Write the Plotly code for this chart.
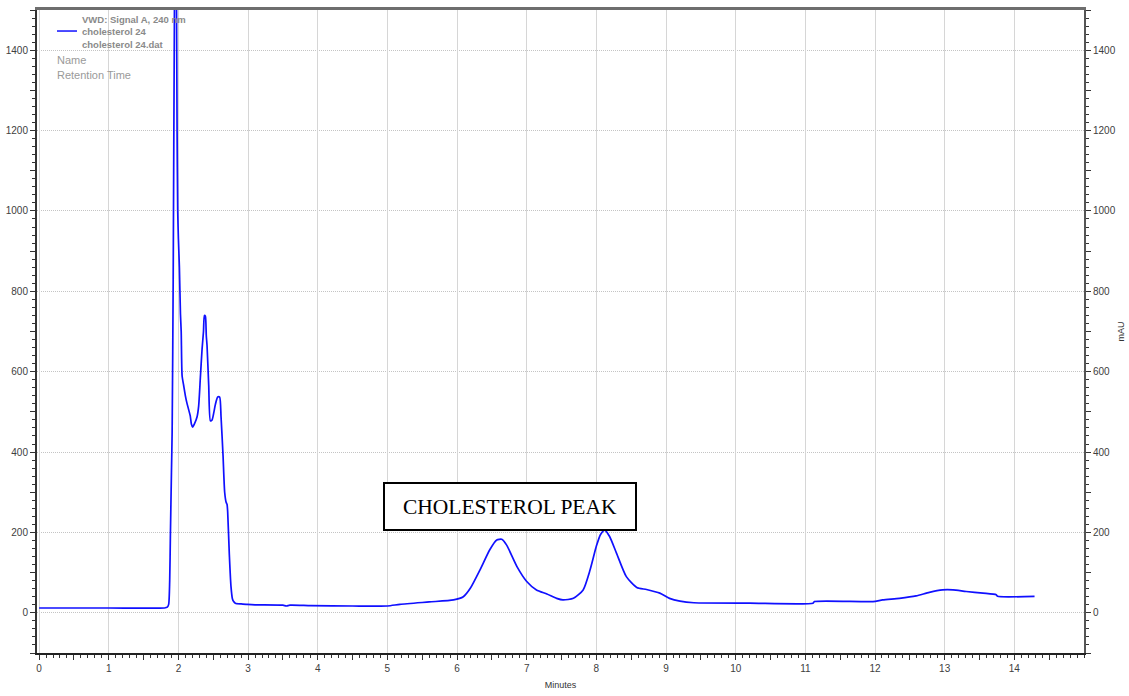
import plotly.graph_objects as go

# Chromatogram: VWD signal A, 240 nm (cholesterol 24)
time_min = [
    0.0, 1.0, 1.80, 1.84, 1.86, 1.875, 1.885, 1.90, 1.91, 1.925, 1.943, 1.962,
    1.981, 1.99, 2.0, 2.014, 2.029, 2.04, 2.053, 2.076, 2.10, 2.125, 2.148, 2.17,
    2.186, 2.205, 2.23, 2.268, 2.291, 2.315, 2.339, 2.36, 2.373, 2.387, 2.40,
    2.411, 2.435, 2.459, 2.483, 2.51, 2.53, 2.564, 2.592, 2.612, 2.641, 2.664,
    2.685, 2.698, 2.707, 2.731, 2.755, 2.775, 2.793, 2.817, 2.9, 2.985, 3.1,
    3.5, 3.55, 3.6, 3.9, 4.5, 5.0, 5.18, 5.6, 5.95, 6.09, 6.19, 6.33, 6.47,
    6.57, 6.64, 6.71, 6.86, 7.0, 7.14, 7.29, 7.43, 7.52, 7.67, 7.81, 7.91,
    8.0, 8.06, 8.12, 8.19, 8.29, 8.43, 8.58, 8.72, 8.91, 9.05, 9.2, 9.4,
    10.2, 11.11, 11.13, 11.97, 12.11, 12.35, 12.59, 12.78, 12.97, 13.12,
    13.31, 13.55, 13.74, 13.76, 14.29,
]
signal_mau = [
    12, 12, 12, 14, 21, 80, 193, 350, 450, 830, 1500, 1850,
    1200, 1000, 930, 860, 745, 700, 590, 565, 540, 520, 505, 490,
    470, 462, 470, 488, 515, 585, 655, 700, 740, 738, 690,
    665, 566, 478, 480, 500, 518, 537, 537, 488, 390, 300,
    275, 270, 252, 145, 65, 35, 28, 24, 22, 21, 20,
    19, 17, 19, 18, 17, 17, 21, 27, 32, 40, 61, 107, 157,
    181, 183, 169, 115, 78, 57, 47, 36, 32, 36, 57, 107,
    166, 195, 206, 190, 148, 90, 63, 58, 49, 36, 29, 25,
    24, 24, 28, 28, 32, 36, 42, 51, 57, 57,
    53, 49, 45, 41, 41,
]

x_range = [-0.03, 15.0]
y_range = [-100, 1500]
y_tick_vals = list(range(-100, 1501, 100))
y_tick_text = [str(v) if v % 200 == 0 else "" for v in y_tick_vals]
x_tick_vals = [i * 0.5 for i in range(0, 30)]
x_tick_text = [str(int(v)) if v == int(v) else "" for v in x_tick_vals]

legend_lines = ["VWD: Signal A, 240 nm", "cholesterol 24", "cholesterol 24.dat"]
legend_extra = ["Name", "Retention Time"]

BLUE = "#1010ff"
TICK_FONT = dict(family="Liberation Sans, Arial", size=10, color="#404040")

fig = go.Figure()
fig.add_trace(go.Scatter(
    x=time_min, y=signal_mau, mode="lines",
    line=dict(color=BLUE, width=1.7, shape="spline", smoothing=0.6),
    showlegend=False, hoverinfo="skip",
))
# empty traces that bind the overlay axes
fig.add_trace(go.Scatter(x=[], y=[], xaxis="x2", yaxis="y", showlegend=False))
fig.add_trace(go.Scatter(x=[], y=[], xaxis="x", yaxis="y2", showlegend=False))
fig.add_trace(go.Scatter(x=[], y=[], xaxis="x", yaxis="y3", showlegend=False))

fig.update_layout(
    width=1129, height=696,
    margin=dict(l=37, r=45, t=10, b=43),
    paper_bgcolor="white", plot_bgcolor="white",
    font=dict(family="Liberation Sans, Arial", size=10, color="#404040"),
    xaxis=dict(
        range=x_range, tickmode="array", tickvals=x_tick_vals, ticktext=x_tick_text,
        ticks="outside", ticklen=5, tickwidth=1, tickcolor="#333333",
        tickfont=TICK_FONT, showgrid=False, zeroline=False, automargin=False,
        showline=True, linecolor="#222222", linewidth=2,
        minor=dict(dtick=0.1, tick0=0, ticks="outside", ticklen=3,
                   tickcolor="#333333", tickwidth=1, showgrid=False),
        title=dict(text="Minutes", font=dict(size=9, color="#333333"), standoff=9),
    ),
    xaxis2=dict(
        range=x_range, overlaying="x", side="top", dtick=1, tick0=0,
        showticklabels=False, ticks="", showgrid=True, automargin=False,
        gridcolor="#d6d6d6", gridwidth=1.2, zeroline=False,
        showline=True, linecolor="#6e6e6e", linewidth=3,
    ),
    yaxis=dict(
        range=y_range, tickmode="array", tickvals=y_tick_vals, ticktext=y_tick_text,
        ticks="outside", ticklen=5, tickwidth=1, tickcolor="#333333",
        tickfont=TICK_FONT, showgrid=False, zeroline=False, automargin=False,
        showline=True, linecolor="#333333", linewidth=2,
        minor=dict(dtick=20, tick0=0, ticks="outside", ticklen=3,
                   tickcolor="#333333", tickwidth=1, showgrid=False),
    ),
    yaxis2=dict(
        range=y_range, overlaying="y", side="right", tickmode="array",
        tickvals=y_tick_vals, ticktext=y_tick_text,
        ticks="outside", ticklen=5, tickwidth=1, tickcolor="#333333",
        tickfont=TICK_FONT, showgrid=False, zeroline=False, automargin=False,
        showline=True, linecolor="#555555", linewidth=2,
        minor=dict(dtick=20, tick0=0, ticks="outside", ticklen=3,
                   tickcolor="#333333", tickwidth=1, showgrid=False),
        title=dict(text="mAU", font=dict(size=9, color="#333333"), standoff=3),
    ),
    yaxis3=dict(
        range=y_range, overlaying="y", dtick=200, tick0=0, automargin=False,
        showticklabels=False, ticks="", showgrid=True,
        gridcolor="#c4c4c4", gridwidth=1, griddash="1px,1px", zeroline=False,
    ),
)

# legend block in the upper-left corner
legend_y = [0.986, 0.9658, 0.9456]
for txt, yy in zip(legend_lines, legend_y):
    fig.add_annotation(
        xref="paper", yref="paper", x=0.041, y=yy, xanchor="left", yanchor="middle",
        text=f"<b>{txt}</b>", showarrow=False,
        font=dict(family="Liberation Sans, Arial", size=9.5, color="#8a8a8a"),
    )
for txt, yy in zip(legend_extra, [0.9222, 0.8989]):
    fig.add_annotation(
        xref="paper", yref="paper", x=0.0172, y=yy, xanchor="left", yanchor="middle",
        text=txt, showarrow=False,
        font=dict(family="Liberation Sans, Arial", size=11, color="#9a9a9a"),
    )
fig.add_shape(type="line", xref="paper", yref="paper",
              x0=0.0191, x1=0.0382, y0=0.9673, y1=0.9673,
              line=dict(color=BLUE, width=1.5))

# peak label box
fig.add_annotation(
    x=6.76, y=265, xref="x", yref="y", text="CHOLESTEROL PEAK", showarrow=False,
    font=dict(family="Liberation Serif, Times New Roman", size=21.5, color="black"),
    bgcolor="white", bordercolor="black", borderwidth=2, borderpad=0,
    width=250, height=45, align="center", valign="middle",
)

fig.write_html("out.html")
